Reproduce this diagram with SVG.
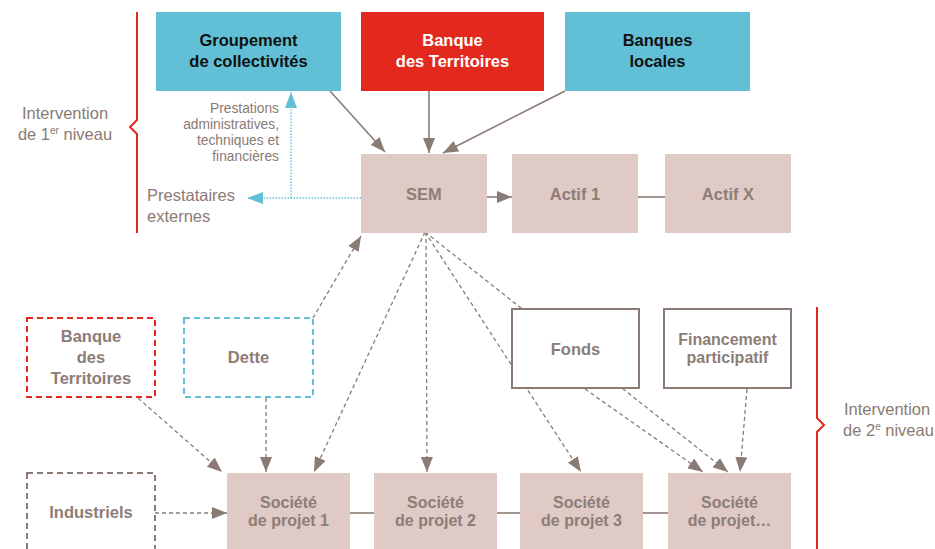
<svg xmlns="http://www.w3.org/2000/svg" width="935" height="549" viewBox="0 0 935 549">
<defs>
<style>
.t{font-family:"Liberation Sans",Arial,sans-serif;font-size:16.5px;font-weight:bold;text-anchor:middle}
.t2{font-size:16px}
.lbl{font-family:"Liberation Sans",Arial,sans-serif;font-size:16.5px;fill:#8b7a73}
.sm{font-family:"Liberation Sans",Arial,sans-serif;font-size:13.8px;fill:#8b7a73;text-anchor:end}
.pink{fill:#dfcac6}
.pt{fill:#8d7d77}
.solid{stroke:#8b7b75;stroke-width:1.6;fill:none}
.dash{stroke:#8b7b75;stroke-width:1.3;fill:none;stroke-dasharray:4 3}
.cy{stroke:#62c0d6;stroke-width:1.4;fill:none;stroke-dasharray:1.5 1.5}
.br{stroke:#e3291e;stroke-width:2;fill:none}
</style>
<marker id="a" markerUnits="userSpaceOnUse" markerWidth="15" markerHeight="12" refX="15" refY="6" orient="auto"><path d="M0,0 L15,6 L0,12 z" fill="#8b7b75"/></marker>
<marker id="c" markerUnits="userSpaceOnUse" markerWidth="16" markerHeight="12" refX="16" refY="6" orient="auto"><path d="M0,0 L16,6 L0,12 z" fill="#62c0d6"/></marker>
</defs>
<rect width="935" height="549" fill="#ffffff"/>

<g id="brackets">
<path class="br" d="M137,12 V120 L130,127 L137,134 V233"/>
<path class="br" d="M817,307 V418 L824,425 L817,432 V549"/>
</g>
<g id="labels">
<text class="lbl" x="65" y="119" text-anchor="middle">Intervention</text>
<text class="lbl" x="65" y="140" text-anchor="middle">de 1<tspan font-size="10" dy="-6">er</tspan><tspan dy="6"> niveau</tspan></text>
<text class="lbl" x="844" y="415">Intervention</text>
<text class="lbl" x="843" y="436">de 2<tspan font-size="10" dy="-6">e</tspan><tspan dy="6"> niveau</tspan></text>
<text class="sm" x="279" y="113">Prestations</text>
<text class="sm" x="279" y="129">administratives,</text>
<text class="sm" x="279" y="145">techniques et</text>
<text class="sm" x="279" y="161">financières</text>
<text class="lbl" x="147" y="201">Prestataires</text>
<text class="lbl" x="147" y="222">externes</text>
</g>

<g id="connectors">
<line class="solid" x1="330" y1="91" x2="385" y2="152" marker-end="url(#a)"/>
<line class="solid" x1="429" y1="91" x2="429" y2="153" marker-end="url(#a)"/>
<line class="solid" x1="565" y1="91" x2="443" y2="153" marker-end="url(#a)"/>
<line class="solid" x1="487" y1="197" x2="512" y2="197" marker-end="url(#a)"/>
<line class="solid" x1="638" y1="197" x2="665" y2="197"/>
<line class="solid" x1="350" y1="513" x2="374" y2="513"/>
<line class="solid" x1="497" y1="513" x2="520" y2="513"/>
<line class="solid" x1="643" y1="513" x2="668" y2="513"/>
<line class="cy" x1="361" y1="198" x2="247" y2="198" marker-end="url(#c)"/>
<line class="cy" x1="291" y1="198" x2="291" y2="92" marker-end="url(#c)"/>
<line class="dash" x1="313" y1="318" x2="361" y2="236" marker-end="url(#a)"/>
<line class="dash" x1="425" y1="232" x2="314" y2="472" marker-end="url(#a)"/>
<line class="dash" x1="426" y1="232" x2="427" y2="472" marker-end="url(#a)"/>
<line class="dash" x1="425" y1="232" x2="581" y2="472" marker-end="url(#a)"/>
<line class="dash" x1="425" y1="232" x2="728" y2="472" marker-end="url(#a)"/>
<line class="dash" x1="585" y1="389" x2="703" y2="472" marker-end="url(#a)"/>
<line class="dash" x1="747" y1="389" x2="740" y2="472" marker-end="url(#a)"/>
<line class="dash" x1="138" y1="398" x2="222" y2="472" marker-end="url(#a)"/>
<line class="dash" x1="266" y1="398" x2="266" y2="472" marker-end="url(#a)"/>
<line class="dash" x1="155" y1="513" x2="227" y2="513" marker-end="url(#a)"/>
</g>

<g id="groupement">
<rect x="156" y="12" width="185" height="79" fill="#62c0d6"/>
<text class="t" x="248.5" y="46" fill="#111">Groupement</text>
<text class="t" x="248.5" y="67" fill="#111">de collectivités</text>
</g>
<g id="banque-territoires">
<rect x="361" y="12" width="183" height="79" fill="#e3291e"/>
<text class="t" x="452.5" y="46" fill="#fff">Banque</text>
<text class="t" x="452.5" y="67" fill="#fff">des Territoires</text>
</g>
<g id="banques-locales">
<rect x="565" y="12" width="185" height="79" fill="#62c0d6"/>
<text class="t" x="657.5" y="46" fill="#111">Banques</text>
<text class="t" x="657.5" y="67" fill="#111">locales</text>
</g>
<g id="sem">
<rect class="pink" x="361" y="154" width="126" height="79"/>
<text class="t pt" x="424" y="200">SEM</text>
</g>
<g id="actif1">
<rect class="pink" x="512" y="154" width="126" height="79"/>
<text class="t pt" x="575" y="200">Actif 1</text>
</g>
<g id="actifx">
<rect class="pink" x="665" y="154" width="126" height="79"/>
<text class="t pt" x="728" y="200">Actif X</text>
</g>
<g id="bdt-dashed">
<rect x="27" y="318" width="128" height="79" fill="#fff" stroke="#e3291e" stroke-width="2" stroke-dasharray="6 4"/>
<text class="t pt" x="91" y="342">Banque</text>
<text class="t pt" x="91" y="363">des</text>
<text class="t pt" x="91" y="384">Territoires</text>
</g>
<g id="dette">
<rect x="184" y="318" width="129" height="79" fill="#fff" stroke="#62c0d6" stroke-width="2" stroke-dasharray="6 4"/>
<text class="t pt" x="248.5" y="363">Dette</text>
</g>
<g id="industriels">
<rect x="27" y="473" width="128" height="80" fill="#fff" stroke="#8b7b75" stroke-width="2" stroke-dasharray="6 4"/>
<text class="t pt" x="91" y="518">Industriels</text>
</g>
<g id="fonds">
<rect x="512" y="309" width="127" height="79" fill="#fff" stroke="#8b7b75" stroke-width="2"/>
<text class="t pt" x="575.5" y="355">Fonds</text>
</g>
<g id="financement">
<rect x="664" y="309" width="127" height="79" fill="#fff" stroke="#8b7b75" stroke-width="2"/>
<text class="t t2 pt" x="727.5" y="345">Financement</text>
<text class="t t2 pt" x="727.5" y="363">participatif</text>
</g>
<g id="sp1">
<rect class="pink" x="227" y="473" width="123" height="76"/>
<text class="t t2 pt" x="288.5" y="508">Société</text>
<text class="t t2 pt" x="288.5" y="526">de projet 1</text>
</g>
<g id="sp2">
<rect class="pink" x="374" y="473" width="123" height="76"/>
<text class="t t2 pt" x="435.5" y="508">Société</text>
<text class="t t2 pt" x="435.5" y="526">de projet 2</text>
</g>
<g id="sp3">
<rect class="pink" x="520" y="473" width="123" height="76"/>
<text class="t t2 pt" x="581.5" y="508">Société</text>
<text class="t t2 pt" x="581.5" y="526">de projet 3</text>
</g>
<g id="spn">
<rect class="pink" x="668" y="473" width="123" height="76"/>
<text class="t t2 pt" x="729.5" y="508">Société</text>
<text class="t t2 pt" x="729.5" y="526">de projet…</text>
</g>
</svg>
